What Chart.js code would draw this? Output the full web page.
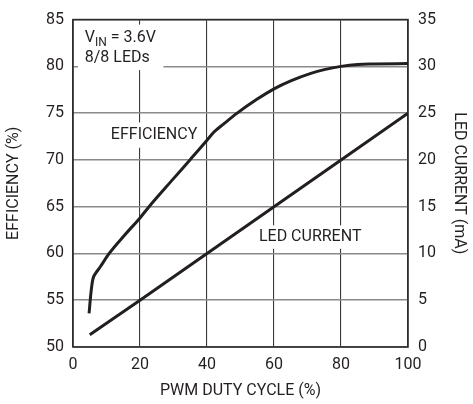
<!DOCTYPE html>
<html lang="en">

<head>
    <meta charset="UTF-8">
    <title>Efficiency and LED Current vs PWM Duty Cycle</title>
    <script src="https://cdn.jsdelivr.net/npm/chart.js"></script>
    <style>
        html, body { margin: 0; padding: 0; background: #fff; }
    </style>
</head>

<body>

    <canvas id="effChart" width="473" height="404"></canvas>

    <script>
        // Efficiency curve (duty cycle %, efficiency %)
        const effDuty = [4.8, 5.3, 5.9, 6.8, 8, 10.8, 15.5, 20, 22.7, 30, 34.9, 40, 42, 45, 49, 55, 60, 65, 71, 75, 80, 85, 90, 100];
        const efficiency = [53.6, 55.6, 57.2, 57.9, 58.5, 60.0, 62.0, 63.8, 65.0, 68.0, 70.0, 72.1, 72.95, 73.85, 75.0, 76.5, 77.6, 78.45, 79.25, 79.65, 80.0, 80.2, 80.25, 80.3];

        // LED current (duty cycle %, mA)
        const ledDuty = [5, 20, 40, 60, 80, 100];
        const ledCurrent = [1.3, 5, 10, 15, 20, 25];

        // Axis ticks
        const dutyTicks = [0, 20, 40, 60, 80, 100];
        const effTicks = [50, 55, 60, 65, 70, 75, 80, 85];
        const currentTicks = [0, 5, 10, 15, 20, 25, 30, 35];

        const FONT = "'Liberation Sans Narrow', 'Roboto', sans-serif";
        const FONT_SIZE = 16;
        const INK = '#231f20';

        Chart.defaults.font.family = FONT;
        Chart.defaults.font.size = FONT_SIZE;
        Chart.defaults.color = INK;

        function toPoints(xs, ys) {
            return xs.map((x, i) => ({ x: x, y: ys[i] }));
        }

        // white boxes behind the in-plot labels, plus the outer frame
        const framePlugin = {
            id: 'frame',
            beforeDatasetsDraw(chart) {
                const { ctx, chartArea: a, scales } = chart;
                const x = scales.x, y = scales.y;
                ctx.save();
                ctx.fillStyle = '#fff';
                // condition box (top left)
                ctx.fillRect(a.left + 5, a.top + 5, x.getPixelForValue(27) - a.left - 5, y.getPixelForValue(79.6) - a.top - 5);
                // EFFICIENCY label
                ctx.fillRect(x.getPixelForValue(10.5), y.getPixelForValue(74.0), x.getPixelForValue(37) - x.getPixelForValue(10.5), y.getPixelForValue(71.3) - y.getPixelForValue(74.0));
                // LED CURRENT label
                ctx.fillRect(x.getPixelForValue(54.6), y.getPixelForValue(63.0), x.getPixelForValue(87.5) - x.getPixelForValue(54.6), y.getPixelForValue(60.5) - y.getPixelForValue(63.0));

                ctx.strokeStyle = '#2b2b2b';
                ctx.lineWidth = 1.6;
                ctx.strokeRect(a.left, a.top, a.right - a.left, a.bottom - a.top);
                ctx.restore();
            },
            afterDraw(chart) {
                const { ctx, scales } = chart;
                const x = scales.x, y = scales.y;
                ctx.save();
                ctx.fillStyle = INK;
                ctx.textBaseline = 'alphabetic';
                ctx.textAlign = 'left';

                // V_IN = 3.6V / 8/8 LEDs
                let px = x.getPixelForValue(3.5);
                const base1 = y.getPixelForValue(82.6);
                ctx.font = FONT_SIZE + 'px ' + FONT;
                ctx.fillText('V', px, base1);
                px += ctx.measureText('V').width;
                ctx.font = '12px ' + FONT;
                ctx.fillText('IN', px, base1 + 4);
                px += ctx.measureText('IN').width;
                ctx.font = FONT_SIZE + 'px ' + FONT;
                ctx.fillText(' = 3.6V', px, base1);
                ctx.fillText('8/8 LEDs', x.getPixelForValue(3.5), y.getPixelForValue(80.5));

                ctx.textBaseline = 'middle';
                ctx.fillText('EFFICIENCY', x.getPixelForValue(11.3), y.getPixelForValue(72.7));
                ctx.fillText('LED CURRENT', x.getPixelForValue(55.5), y.getPixelForValue(61.75));
                ctx.restore();
            }
        };

        new Chart(document.getElementById('effChart'), {
            type: 'line',
            data: {
                datasets: [{
                    label: 'Efficiency',
                    data: toPoints(effDuty, efficiency),
                    yAxisID: 'y',
                    borderColor: INK,
                    borderWidth: 3,
                    pointRadius: 0,
                    cubicInterpolationMode: 'monotone'
                }, {
                    label: 'LED Current',
                    data: toPoints(ledDuty, ledCurrent),
                    yAxisID: 'y1',
                    borderColor: INK,
                    borderWidth: 3,
                    pointRadius: 0
                }]
            },
            plugins: [framePlugin],
            options: {
                responsive: false,
                animation: false,
                layout: { padding: { top: 13 } },
                plugins: {
                    legend: { display: false },
                    tooltip: { enabled: false }
                },
                scales: {
                    x: {
                        type: 'linear',
                        min: 0,
                        max: 100,
                        afterBuildTicks: s => { s.ticks = dutyTicks.map(v => ({ value: v })); },
                        afterFit: s => { s.height = 57; },
                        ticks: { padding: 8 },
                        grid: { color: '#3a3a3a', lineWidth: 1.1, drawTicks: false },
                        border: { display: false },
                        title: { display: true, text: 'PWM DUTY CYCLE (%)', padding: { top: 0, bottom: 3 } }
                    },
                    y: {
                        position: 'left',
                        min: 50,
                        max: 85,
                        afterBuildTicks: s => { s.ticks = effTicks.map(v => ({ value: v })); },
                        afterFit: s => { s.width = 73; },
                        ticks: { padding: 9 },
                        grid: { color: '#8a8a8a', lineWidth: 1.6, drawTicks: false },
                        border: { display: false },
                        title: { display: true, text: 'EFFICIENCY (%)', padding: { top: 4, bottom: 0 } }
                    },
                    y1: {
                        position: 'right',
                        min: 0,
                        max: 35,
                        afterBuildTicks: s => { s.ticks = currentTicks.map(v => ({ value: v })); },
                        afterFit: s => { s.width = 65; },
                        ticks: { padding: 10 },
                        grid: { drawOnChartArea: false, drawTicks: false },
                        border: { display: false },
                        title: { display: true, text: 'LED CURRENT (mA)', padding: { top: 4, bottom: 0 } }
                    }
                }
            }
        });
    </script>

</body>

</html>
